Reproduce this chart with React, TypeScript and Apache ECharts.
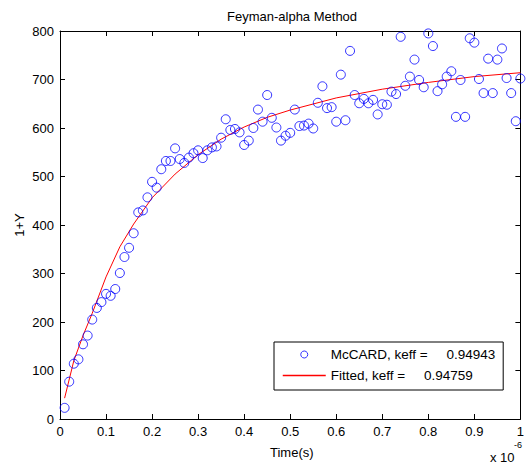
import React, { useEffect, useRef } from "react";
import * as echarts from "echarts";

const FONT = "'Liberation Sans', Arial, sans-serif";

const chartTitle = "Feyman-alpha Method";
const xAxisName = "Time(s)";
const yAxisName = "1+Y";
const xTickValues = [0, 0.1, 0.2, 0.3, 0.4, 0.5, 0.6, 0.7, 0.8, 0.9, 1];
const yTickValues = [0, 100, 200, 300, 400, 500, 600, 700, 800];

const mccardName = "McCARD, keff =     0.94943";
const fittedName = "Fitted, keff =     0.94759";

// Time (in units of 1e-6 s)
const timeUs = [
  0.01, 0.02, 0.03, 0.04, 0.05, 0.06, 0.07, 0.08, 0.09, 0.1,
  0.11, 0.12, 0.13, 0.14, 0.15, 0.16, 0.17, 0.18, 0.19, 0.2,
  0.21, 0.22, 0.23, 0.24, 0.25, 0.26, 0.27, 0.28, 0.29, 0.3,
  0.31, 0.32, 0.33, 0.34, 0.35, 0.36, 0.37, 0.38, 0.39, 0.4,
  0.41, 0.42, 0.43, 0.44, 0.45, 0.46, 0.47, 0.48, 0.49, 0.5,
  0.51, 0.52, 0.53, 0.54, 0.55, 0.56, 0.57, 0.58, 0.59, 0.6,
  0.61, 0.62, 0.63, 0.64, 0.65, 0.66, 0.67, 0.68, 0.69, 0.7,
  0.71, 0.72, 0.73, 0.74, 0.75, 0.76, 0.77, 0.78, 0.79, 0.8,
  0.81, 0.82, 0.83, 0.84, 0.85, 0.86, 0.87, 0.88, 0.89, 0.9,
  0.91, 0.92, 0.93, 0.94, 0.95, 0.96, 0.97, 0.98, 0.99, 1.0,
];

// McCARD 1+Y values
const mccardValues = [
  23, 77, 114, 123, 154, 172, 205, 229, 241, 258,
  254, 268, 301, 334, 353, 383, 426, 430, 457, 489,
  477, 515, 532, 532, 558, 536, 528, 539, 548, 554,
  538, 554, 560, 562, 580, 618, 596, 598, 591, 565,
  574, 600, 638, 613, 668, 621, 601, 574, 584, 590,
  638, 604, 605, 609, 599, 652, 686, 641, 643, 613,
  710, 616, 759, 668, 651, 660, 651, 658, 628, 649,
  648, 675, 670, 788, 687, 706, 741, 699, 684, 795,
  769, 676, 690, 706, 717, 623, 699, 623, 785, 776,
  701, 672, 743, 672, 741, 764, 703, 672, 614, 702,
];

// Fitted curve
const fitTime = [0.01, 0.03, 0.05, 0.07, 0.1, 0.13, 0.16, 0.2, 0.25, 0.3, 0.35, 0.4, 0.45, 0.5, 0.6, 0.7, 0.8, 0.9, 1.0];
const fitValues = [43, 120, 172, 218, 293, 355, 402, 456, 505, 545, 577, 602, 622, 637, 662, 680, 694, 706, 714];

export default function App() {
  const ref = useRef<HTMLDivElement>(null);

  useEffect(() => {
    if (!ref.current) return;
    const chart = echarts.init(ref.current, null, { renderer: "svg" });

    const axisCommon = {
      min: 0,
      axisLine: { show: true, onZero: false, lineStyle: { color: "#000", width: 1 } },
      axisTick: { show: true, inside: true, length: 5, lineStyle: { color: "#000", width: 1 } },
      splitLine: { show: false },
    };

    chart.setOption({
      animation: false,
      backgroundColor: "#fff",
      textStyle: { fontFamily: FONT },
      title: {
        text: chartTitle,
        left: 222,
        top: 5,
        textStyle: { fontFamily: FONT, fontSize: 13, fontWeight: "normal", color: "#000" },
      },
      grid: { left: 60, right: 1, top: 31, bottom: 47, containLabel: false },
      legend: {
        orient: "vertical",
        left: 274,
        top: 342,
        padding: [5, 8, 7, 8],
        itemGap: 6,
        itemWidth: 43,
        itemHeight: 7,
        backgroundColor: "#fff",
        borderColor: "#000",
        borderWidth: 1,
        borderRadius: 0,
        lineStyle: { width: 1.5, color: "#ff0000", opacity: 1 },
        textStyle: { fontFamily: FONT, fontSize: 13.5, color: "#000", lineHeight: 15 },
        data: [
          { name: mccardName, itemStyle: { borderWidth: 1, borderColor: "#0000ff", color: "rgba(0,0,0,0)" } },
          { name: fittedName, itemStyle: { color: "rgba(0,0,0,0)", borderWidth: 0, borderColor: "rgba(0,0,0,0)" } },
        ],
      },
      xAxis: [
        {
          ...axisCommon,
          type: "value",
          max: 1,
          interval: 0.1,
          position: "bottom",
          axisLabel: {
            color: "#000",
            fontSize: 13,
            fontFamily: FONT,
            margin: 6,
            formatter: (v: number) => {
              const t = xTickValues.find((x) => Math.abs(x - v) < 1e-9);
              return t === undefined ? "" : String(t);
            },
          },
        },
        {
          ...axisCommon,
          type: "value",
          max: 1,
          interval: 0.1,
          position: "top",
          axisLabel: { show: false },
        },
      ],
      yAxis: [
        {
          ...axisCommon,
          type: "value",
          max: 800,
          interval: 100,
          position: "left",
          axisLabel: {
            color: "#000",
            fontSize: 13,
            fontFamily: FONT,
            margin: 6,
            formatter: (v: number) => (yTickValues.includes(v) ? String(v) : ""),
          },
        },
        {
          ...axisCommon,
          type: "value",
          max: 800,
          interval: 100,
          position: "right",
          axisLabel: { show: false },
        },
      ],
      series: [
        {
          name: mccardName,
          type: "scatter",
          xAxisIndex: 0,
          yAxisIndex: 0,
          symbol: "circle",
          symbolSize: 9,
          itemStyle: { color: "rgba(0,0,0,0)", borderColor: "#0000ff", borderWidth: 1 },
          data: timeUs.map((t, i) => [t, mccardValues[i]]),
          z: 3,
        },
        {
          name: fittedName,
          type: "line",
          xAxisIndex: 0,
          yAxisIndex: 0,
          symbol: "none",
          showSymbol: false,
          smooth: false,
          lineStyle: { color: "#ff0000", width: 1 },
          itemStyle: { color: "#ff0000" },
          data: fitTime.map((t, i) => [t, fitValues[i]]),
          z: 2,
        },
      ],
      graphic: [
        {
          type: "text",
          left: 270,
          top: 446,
          style: { text: xAxisName, fontFamily: FONT, fontSize: 13, fill: "#000" },
        },
        {
          type: "text",
          x: 19,
          y: 225,
          rotation: Math.PI / 2,
          style: {
            text: yAxisName,
            fontFamily: FONT,
            fontSize: 13,
            fill: "#000",
            align: "center",
            verticalAlign: "middle",
          },
        },
        {
          type: "text",
          left: 490,
          top: 451,
          style: { text: "x 10", fontFamily: FONT, fontSize: 13, fill: "#000" },
        },
        {
          type: "text",
          left: 514,
          top: 440,
          style: { text: "-6", fontFamily: FONT, fontSize: 9, fill: "#000" },
        },
      ],
    });

    return () => chart.dispose();
  }, []);

  return (
    <div
      ref={ref}
      style={{ position: "fixed", left: 0, top: 0, width: 527, height: 466 }}
    />
  );
}
